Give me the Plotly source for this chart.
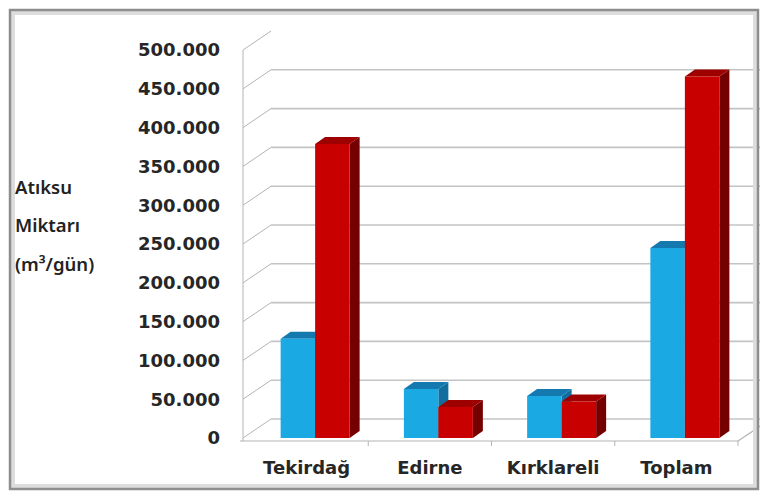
import plotly.graph_objects as go

# ---------------- data ----------------
categories = ["Tekirdağ", "Edirne", "Kırklareli", "Toplam"]
blue_values = [128000, 63000, 54000, 245000]
red_values = [379000, 40000, 47000, 466000]
y_tick_values = [0, 50000, 100000, 150000, 200000, 250000, 300000, 350000, 400000, 450000, 500000]
y_tick_labels = [f"{v:,}".replace(",", ".") for v in y_tick_values]
y_title_lines = ["Atıksu", "Miktarı", "(m³/gün)"]

# ---------------- layout geometry ----------------
W, H = 763, 495
L, R, T, B = 240, 760, 28, 446          # plot area in pixels
cat_left_px, cat_right_px = 245, 738    # x = -0.5 and x = 3.5
zero_px, top_px = 438, 50               # value 0 and 500000
ppx = (cat_right_px - cat_left_px) / len(categories)
ppy = (zero_px - top_px) / 500000
xr = [-0.5 - (cat_left_px - L) / ppx, 3.5 + (R - cat_right_px) / ppx]
yr = [-(B - zero_px) / ppy, (zero_px - T) / ppy]

def dx(p):
    return p / ppx

def dy(p):
    return p / ppy

def pxp(p):  # pixel x -> paper
    return (p - L) / (R - L)

def pyp(p):  # pixel y -> paper
    return (B - p) / (B - T)

bar_w = dx(34.5)
split = dx(8.5)
depth_x, depth_y = dx(10), dy(7)
wall_x, wall_y = dx(28), dy(19)
axis_x = -0.5 - dx(2)
floor_v = -dy(3)

BLUE, BLUE_TOP, BLUE_SIDE = "#1BA9E4", "#1479AE", "#116E9E"
RED, RED_TOP, RED_SIDE = "#C80000", "#9E0000", "#750000"

fig = go.Figure()
xs = list(range(len(categories)))
fig.add_trace(go.Bar(x=xs, y=blue_values, width=bar_w, offset=split - bar_w,
                     marker=dict(color=BLUE, line=dict(width=0)), name="blue"))
fig.add_trace(go.Bar(x=xs, y=red_values, width=bar_w, offset=split,
                     marker=dict(color=RED, line=dict(width=0)), name="red"))

shapes = []
# back wall gridlines and left wall diagonals
for v in y_tick_values:
    shapes.append(dict(type="line", xref="x", yref="y", layer="below",
                       x0=axis_x, y0=v, x1=axis_x + wall_x, y1=v + wall_y,
                       line=dict(color="#b4b4b4", width=1)))
    if v < 500000:
        shapes.append(dict(type="line", xref="x", yref="y", layer="below",
                           x0=axis_x + wall_x, y0=v + wall_y, x1=xr[1], y1=v + wall_y,
                           line=dict(color="#c4c4c4", width=1.6)))
# front vertical axis
shapes.append(dict(type="line", xref="x", yref="y", layer="below",
                   x0=axis_x, y0=floor_v, x1=axis_x, y1=500000,
                   line=dict(color="#b4b4b4", width=1)))
# front floor line + right diagonal
shapes.append(dict(type="line", xref="x", yref="y", layer="below",
                   x0=axis_x - dx(4), y0=floor_v, x1=3.5, y1=floor_v,
                   line=dict(color="#b4b4b4", width=1.2)))
shapes.append(dict(type="line", xref="x", yref="y", layer="below",
                   x0=3.5, y0=floor_v, x1=3.5 + dx(24), y1=floor_v + dy(16),
                   line=dict(color="#b4b4b4", width=1.2)))
# category tick marks
for i in range(len(categories)):
    shapes.append(dict(type="line", xref="x", yref="y", layer="below",
                       x0=i + 0.5, y0=floor_v, x1=i + 0.5, y1=floor_v - dy(6),
                       line=dict(color="#b4b4b4", width=1)))

def faces(x_left, x_right, v, top_col, side_col):
    top = (f"M {x_left},{v} L {x_right},{v} L {x_right + depth_x},{v + depth_y} "
           f"L {x_left + depth_x},{v + depth_y} Z")
    side = (f"M {x_right},0 L {x_right},{v} L {x_right + depth_x},{v + depth_y} "
            f"L {x_right + depth_x},{depth_y} Z")
    return [dict(type="path", xref="x", yref="y", layer="below", path=side,
                 fillcolor=side_col, line=dict(width=0)),
            dict(type="path", xref="x", yref="y", layer="below", path=top,
                 fillcolor=top_col, line=dict(width=0))]

for i in xs:
    shapes += faces(i + split - bar_w, i + split, blue_values[i], BLUE_TOP, BLUE_SIDE)
    shapes += faces(i + split, i + split + bar_w, red_values[i], RED_TOP, RED_SIDE)

# outer frame
shapes.append(dict(type="rect", xref="paper", yref="paper",
                   x0=pxp(13), x1=pxp(755), y0=pyp(486), y1=pyp(13),
                   line=dict(color="#dddddd", width=4)))
shapes.append(dict(type="rect", xref="paper", yref="paper",
                   x0=pxp(10), x1=pxp(758), y0=pyp(489), y1=pyp(10),
                   line=dict(color="#8e8e8e", width=2.5)))

annotations = []
for k, line in enumerate(y_title_lines):
    annotations.append(dict(text=line, xref="paper", yref="paper",
                            x=pxp(13), y=pyp(186 + 38.5 * k), xanchor="left", yanchor="middle",
                            showarrow=False,
                            font=dict(family="Noto Sans", size=18.5, color="#222222", weight=600)))

tick_font = dict(family="DejaVu Sans", size=18, color="#262626", weight="bold")
fig.update_layout(
    width=W, height=H,
    margin=dict(l=L, r=W - R, t=T, b=H - B, pad=0),
    paper_bgcolor="white", plot_bgcolor="white",
    showlegend=False,
    barmode="overlay",
    xaxis=dict(range=xr, tickvals=xs, ticktext=categories, showgrid=False,
               zeroline=False, showline=False, ticks="", ticklabelstandoff=9,
               tickfont=tick_font, fixedrange=True),
    yaxis=dict(range=yr, tickvals=y_tick_values, ticktext=y_tick_labels,
               showgrid=False, zeroline=False, showline=False, ticks="",
               ticklabelstandoff=19, tickfont=tick_font, fixedrange=True),
    shapes=shapes,
    annotations=annotations,
)

fig.write_html("out.html")
